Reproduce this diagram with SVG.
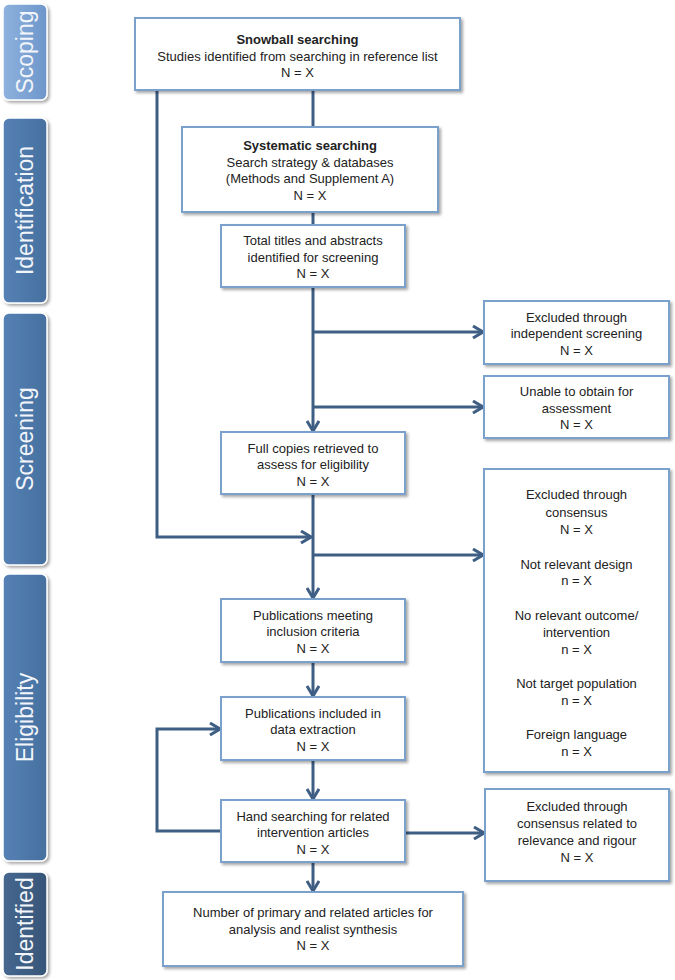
<svg xmlns="http://www.w3.org/2000/svg" width="675" height="980" viewBox="0 0 675 980">
<defs>
<filter id="sh" x="-10%" y="-10%" width="130%" height="130%">
<feDropShadow dx="2" dy="2" stdDeviation="1.5" flood-color="#000" flood-opacity="0.35"/>
</filter>
<linearGradient id="gScope" x1="0" y1="0" x2="1" y2="0">
<stop offset="0" stop-color="#8fb2de"/><stop offset="1" stop-color="#6d96ca"/>
</linearGradient>
<linearGradient id="gMid" x1="0" y1="0" x2="1" y2="0">
<stop offset="0" stop-color="#5681b5"/><stop offset="1" stop-color="#46709f"/>
</linearGradient>
<linearGradient id="gDark" x1="0" y1="0" x2="1" y2="0">
<stop offset="0" stop-color="#46678f"/><stop offset="1" stop-color="#375578"/>
</linearGradient>
<marker id="arr" viewBox="0 0 12 14" refX="11" refY="7" markerWidth="12" markerHeight="14" markerUnits="userSpaceOnUse" orient="auto">
<path d="M1,1 L11,7 L1,13" fill="none" stroke="#3f5e84" stroke-width="3"/>
</marker>
</defs>
<style>
.bar{stroke:#ffffff;stroke-width:1.5;filter:url(#sh)}
.bt{font-family:"Liberation Sans",Arial,sans-serif;font-size:23px;fill:#f2f5fa;text-anchor:middle}
.box{fill:#ffffff;stroke:#7aa0cc;stroke-width:2;filter:url(#sh)}
.t{font-family:"Liberation Sans",Arial,sans-serif;font-size:13px;fill:#222222;text-anchor:middle}
.b{font-weight:bold}
.c{fill:none;stroke:#3f5e84;stroke-width:3}
</style>
<rect width="675" height="980" fill="#ffffff"/>

<g id="bar-scoping">
<rect class="bar" x="3" y="4" width="44" height="96" rx="6" fill="url(#gScope)"/>
<text class="bt" transform="translate(33,52) rotate(-90)">Scoping</text>
</g>
<g id="bar-identification">
<rect class="bar" x="3" y="118" width="44" height="185" rx="6" fill="url(#gMid)"/>
<text class="bt" transform="translate(33,210.5) rotate(-90)">Identification</text>
</g>
<g id="bar-screening">
<rect class="bar" x="3" y="313" width="44" height="252" rx="6" fill="url(#gMid)"/>
<text class="bt" transform="translate(33,439) rotate(-90)">Screening</text>
</g>
<g id="bar-eligibility">
<rect class="bar" x="3" y="574" width="44" height="287" rx="6" fill="url(#gMid)"/>
<text class="bt" transform="translate(33,717.5) rotate(-90)">Eligibility</text>
</g>
<g id="bar-identified">
<rect class="bar" x="3" y="872" width="44" height="104" rx="6" fill="url(#gDark)"/>
<text class="bt" transform="translate(33,924) rotate(-90)">Identified</text>
</g>

<g id="connectors">
<path class="c" d="M313,90 V127"/>
<path class="c" d="M157,90 V537 H311" marker-end="url(#arr)"/>
<path class="c" d="M313,212 V225"/>
<path class="c" d="M313,287 V431" marker-end="url(#arr)"/>
<path class="c" d="M313,332 H483" marker-end="url(#arr)"/>
<path class="c" d="M313,407 H483" marker-end="url(#arr)"/>
<path class="c" d="M313,494 V598" marker-end="url(#arr)"/>
<path class="c" d="M313,555 H483" marker-end="url(#arr)"/>
<path class="c" d="M313,662 V696" marker-end="url(#arr)"/>
<path class="c" d="M313,760 V799" marker-end="url(#arr)"/>
<path class="c" d="M221,831 H157 V729 H220" marker-end="url(#arr)"/>
<path class="c" d="M405,833 H484" marker-end="url(#arr)"/>
<path class="c" d="M313,862 V891" marker-end="url(#arr)"/>
</g>

<g id="snowball">
<rect class="box" x="135" y="18" width="325" height="72"/>
<text class="t b" x="297.5" y="44">Snowball searching</text>
<text class="t" x="297.5" y="60.5">Studies identified from searching in reference list</text>
<text class="t" x="297.5" y="77">N = X</text>
</g>
<g id="systematic">
<rect class="box" x="182" y="127" width="256" height="85"/>
<text class="t b" x="310" y="150">Systematic searching</text>
<text class="t" x="310" y="166.5">Search strategy &amp; databases</text>
<text class="t" x="310" y="183">(Methods and Supplement A)</text>
<text class="t" x="310" y="199.5">N = X</text>
</g>
<g id="total">
<rect class="box" x="221" y="225" width="184" height="62"/>
<text class="t" x="313" y="245">Total titles and abstracts</text>
<text class="t" x="313" y="261.5">identified for screening</text>
<text class="t" x="313" y="278">N = X</text>
</g>
<g id="excl-indep">
<rect class="box" x="484" y="301" width="185" height="63"/>
<text class="t" x="576.5" y="321.5">Excluded through</text>
<text class="t" x="576.5" y="338">independent screening</text>
<text class="t" x="576.5" y="354.5">N = X</text>
</g>
<g id="unable">
<rect class="box" x="484" y="376" width="185" height="62"/>
<text class="t" x="576.5" y="396">Unable to obtain for</text>
<text class="t" x="576.5" y="412.5">assessment</text>
<text class="t" x="576.5" y="429">N = X</text>
</g>
<g id="fullcopies">
<rect class="box" x="221" y="432" width="184" height="62"/>
<text class="t" x="313" y="452.5">Full copies retrieved to</text>
<text class="t" x="313" y="469">assess for eligibility</text>
<text class="t" x="313" y="485.5">N = X</text>
</g>
<g id="excl-consensus">
<rect class="box" x="484" y="469" width="185" height="303"/>
<text class="t" x="576.5" y="499">Excluded through</text>
<text class="t" x="576.5" y="516.5">consensus</text>
<text class="t" x="576.5" y="534">N = X</text>
<text class="t" x="576.5" y="568.5">Not relevant design</text>
<text class="t" x="576.5" y="585">n = X</text>
<text class="t" x="576.5" y="619.5">No relevant outcome/</text>
<text class="t" x="576.5" y="636.5">intervention</text>
<text class="t" x="576.5" y="653.5">n = X</text>
<text class="t" x="576.5" y="688">Not target population</text>
<text class="t" x="576.5" y="705">n = X</text>
<text class="t" x="576.5" y="739">Foreign language</text>
<text class="t" x="576.5" y="756">n = X</text>
</g>
<g id="pub-meeting">
<rect class="box" x="221" y="599" width="184" height="63"/>
<text class="t" x="313" y="619.5">Publications meeting</text>
<text class="t" x="313" y="636">inclusion criteria</text>
<text class="t" x="313" y="652.5">N = X</text>
</g>
<g id="pub-included">
<rect class="box" x="221" y="697" width="184" height="63"/>
<text class="t" x="313" y="717.5">Publications included in</text>
<text class="t" x="313" y="734">data extraction</text>
<text class="t" x="313" y="750.5">N = X</text>
</g>
<g id="hand-searching">
<rect class="box" x="221" y="800" width="184" height="62"/>
<text class="t" x="313" y="820.5">Hand searching for related</text>
<text class="t" x="313" y="837">intervention articles</text>
<text class="t" x="313" y="853.5">N = X</text>
</g>
<g id="excl-relevance">
<rect class="box" x="485" y="789" width="184" height="92"/>
<text class="t" x="577" y="811">Excluded through</text>
<text class="t" x="577" y="828">consensus related to</text>
<text class="t" x="577" y="845">relevance and rigour</text>
<text class="t" x="577" y="862">N = X</text>
</g>
<g id="final">
<rect class="box" x="163" y="892" width="300" height="74"/>
<text class="t" x="313" y="917">Number of primary and related articles for</text>
<text class="t" x="313" y="933.5">analysis and realist synthesis</text>
<text class="t" x="313" y="950">N = X</text>
</g>
</svg>
